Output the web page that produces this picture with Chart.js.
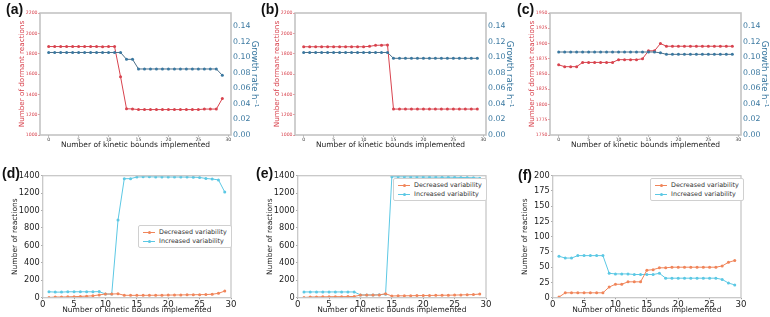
<!DOCTYPE html>
<html>
<head>
<meta charset="utf-8">
<script src="https://cdn.jsdelivr.net/npm/chart.js@4.4.1/dist/chart.umd.min.js"></script>
<style>
  body { margin: 0; width: 770px; height: 317px; background: #fff; position: relative; overflow: hidden; font-family: "DejaVu Sans", sans-serif; }
  canvas { position: absolute; }
  .tag { position: absolute; font: bold 14px "Liberation Sans", Arial, sans-serif; line-height: 14px; color: #111; }
  .legend { position: absolute; background: #fff; border: 1px solid #d0d0d0; border-radius: 2px; padding: 2px 4px 1px 4px; font-size: 6.4px; color: #333; }
  .legend div { height: 9px; line-height: 9px; white-space: nowrap; }
  .legend .ln { display: inline-block; width: 12px; height: 0; border-top: 1px solid; vertical-align: middle; margin-right: 4px; position: relative; }
  .legend .ln::after { content: ""; position: absolute; left: 4.5px; top: -2px; width: 3px; height: 3px; border-radius: 50%; background: currentColor; }
</style>
</head>
<body>
<canvas id="pa" width="262" height="158" style="left:0;top:0"></canvas>
<canvas id="pb" width="262" height="158" style="left:255px;top:0"></canvas>
<canvas id="pc" width="262" height="158" style="left:510px;top:0"></canvas>
<canvas id="pd" width="240" height="159" style="left:0;top:158px"></canvas>
<canvas id="pe" width="240" height="159" style="left:255px;top:158px"></canvas>
<canvas id="pf" width="240" height="159" style="left:510px;top:158px"></canvas>

<div class="tag" style="left:6px;top:2px">(a)</div>
<div class="tag" style="left:261px;top:2px">(b)</div>
<div class="tag" style="left:517px;top:2px">(c)</div>
<div class="tag" style="left:2px;top:166px">(d)</div>
<div class="tag" style="left:256px;top:166px">(e)</div>
<div class="tag" style="left:518px;top:168px">(f)</div>

<div class="legend" style="left:138px;top:225px">
  <div><span class="ln" style="color:#f0855a"></span>Decreased variability</div>
  <div><span class="ln" style="color:#5cc8e4"></span>Increased variability</div>
</div>
<div class="legend" style="left:393px;top:178px">
  <div><span class="ln" style="color:#f0855a"></span>Decreased variability</div>
  <div><span class="ln" style="color:#5cc8e4"></span>Increased variability</div>
</div>
<div class="legend" style="left:650px;top:178px">
  <div><span class="ln" style="color:#f0855a"></span>Decreased variability</div>
  <div><span class="ln" style="color:#5cc8e4"></span>Increased variability</div>
</div>

<script>
// x values
const boundsTop = [0,1,2,3,4,5,6,7,8,9,10,11,12,13,14,15,16,17,18,19,20,21,22,23,24,25,26,27,28,29];
const boundsBottom = [1,2,3,4,5,6,7,8,9,10,11,12,13,14,15,16,17,18,19,20,21,22,23,24,25,26,27,28,29];

// top row: dormant reactions (left axis) and growth rate (right axis)
const dormantA = [1870,1870,1870,1870,1870,1870,1870,1870,1870,1868,1870,1870,1574,1258,1256,1250,1250,1250,1250,1250,1250,1250,1250,1250,1250,1250,1255,1255,1255,1358];
const growthA = [0.106,0.106,0.106,0.106,0.106,0.106,0.106,0.106,0.106,0.106,0.106,0.106,0.106,0.0972,0.0972,0.0848,0.0848,0.0848,0.0848,0.0848,0.0848,0.0848,0.0848,0.0848,0.0848,0.0848,0.0848,0.0848,0.0848,0.0767];
const dormantB = [1868,1868,1868,1868,1868,1868,1868,1868,1868,1868,1868,1872,1882,1884,1886,1255,1255,1255,1255,1255,1255,1255,1255,1255,1255,1255,1255,1255,1255,1255];
const growthB = [0.106,0.106,0.106,0.106,0.106,0.106,0.106,0.106,0.106,0.106,0.106,0.106,0.106,0.106,0.106,0.0985,0.0985,0.0985,0.0985,0.0985,0.0985,0.0985,0.0985,0.0985,0.0985,0.0985,0.0985,0.0985,0.0985,0.0985];
const dormantC = [1865,1862,1862,1862,1869,1869,1869,1869,1869,1869,1873.5,1873.5,1873.5,1873.5,1875,1888,1888,1900,1895.5,1895.5,1895.5,1895.5,1895.5,1895.5,1895.5,1895.5,1895.5,1895.5,1895.5,1895.5];
const growthC = [0.1066,0.1066,0.1066,0.1066,0.1066,0.1066,0.1066,0.1066,0.1066,0.1066,0.1066,0.1066,0.1066,0.1066,0.1066,0.1066,0.1066,0.1055,0.1036,0.1036,0.1036,0.1036,0.1036,0.1036,0.1036,0.1036,0.1036,0.1036,0.1036,0.1036];

// bottom row: variability changes
const decreasedD = [2,8,8,10,12,15,18,22,32,42,42,45,28,27,27,27,28,28,29,30,31,32,33,34,35,36,40,50,76];
const increasedD = [68,64,64,68,68,68,68,68,70,42,42,891,1366,1366,1385,1387,1387,1386,1386,1385,1385,1385,1384,1383,1380,1368,1362,1352,1213];
const decreasedE = [2,8,9,10,11,12,12,13,14,30,30,30,32,46,20,22,22,23,24,25,26,27,28,29,30,32,34,36,42];
const increasedE = [66,66,66,66,66,66,66,66,66,32,32,32,33,40,1388,1387,1387,1386,1386,1385,1384,1384,1383,1383,1382,1380,1378,1376,1372];
const decreasedF = [1,8,8,8,8,8,8,8,17.5,22,22,26,26,26,45,46,49,49,50,50,50,50,50,50,50,50,52,58,61];
const increasedF = [68,65,65,69,69,69,69,69,40,39,39,39,38,38,38,38,40,32,32,32,32,32,32,32,32,32,30,24,21];

// tick labels
const xTicks = [0,5,10,15,20,25,30];
const dormantTicksAB = [1000,1200,1400,1600,1800,2000,2200];
const dormantTicksC = [1750,1775,1800,1825,1850,1875,1900,1925,1950];
const growthTicks = [0,0.02,0.04,0.06,0.08,0.10,0.12,0.14];
const reactionTicksDE = [0,200,400,600,800,1000,1200,1400];
const reactionTicksF = [0,25,50,75,100,125,150,175,200];

const RED = "#d8434e";
const BLUE = "#3a78a0";
const BLUE_LINE = "#4d6f88";
const ORANGE = "#f0855a";
const CYAN = "#5cc8e4";
const XTITLE = "Number of kinetic bounds implemented";

Chart.defaults.font.family = '"DejaVu Sans", sans-serif';

const pts = (xs, ys) => ys.map((y, i) => ({ x: xs[i], y: y }));
const setTicks = (list) => (s) => { s.ticks = list.map(v => ({ value: v })); };
const fitW = (w) => (s) => { s.width = w; s.paddingTop = 0; s.paddingBottom = 0; s.paddingLeft = 0; s.paddingRight = 0; };
const fitH = (h) => (s) => { s.height = h; s.paddingTop = 0; s.paddingBottom = 0; s.paddingLeft = 0; s.paddingRight = 0; };

// light grey frame round the plot area
const frame = {
  id: "frame",
  afterDraw(chart) {
    const a = chart.chartArea, c = chart.ctx;
    c.save();
    c.strokeStyle = "#c4c4c4";
    c.lineWidth = chart.options.frameWidth || 1.2;
    c.strokeRect(a.left, a.top, a.right - a.left, a.bottom - a.top);
    c.restore();
  }
};

function line(data, axis, color, pointColor) {
  return {
    data: data, yAxisID: axis, borderColor: color, backgroundColor: pointColor,
    borderWidth: 1, pointRadius: 1.5, pointBorderWidth: 0, pointBackgroundColor: pointColor,
    tension: 0, fill: false
  };
}

function topPanel(id, dormant, growth, leftTicks, leftMin, leftMax) {
  new Chart(document.getElementById(id), {
    type: "line",
    data: {
      datasets: [
        line(pts(boundsTop, growth), "y1", BLUE_LINE, BLUE),
        line(pts(boundsTop, dormant), "y", RED, RED)
      ]
    },
    options: {
      responsive: false, animation: false, devicePixelRatio: 1, frameWidth: 1.6,
      layout: { padding: { top: 13, left: 0, right: 0, bottom: 0 } },
      plugins: { legend: { display: false }, tooltip: { enabled: false } },
      scales: {
        x: {
          type: "linear", min: -1.45, max: 30.45,
          afterBuildTicks: setTicks(xTicks), afterFit: fitH(23),
          grid: { drawOnChartArea: false, drawTicks: true, tickLength: 1.5, color: "#888" },
          border: { display: false },
          ticks: { font: { size: 4.6 }, color: "#444", padding: 1, maxRotation: 0, autoSkip: false, callback: v => String(v) },
          title: { display: true, text: XTITLE, font: { size: 7.5 }, color: "#222", padding: { top: 0, bottom: 8.5 } }
        },
        y: {
          type: "linear", position: "left", min: leftMin, max: leftMax,
          afterBuildTicks: setTicks(leftTicks), afterFit: fitW(40),
          grid: { drawOnChartArea: false, drawTicks: true, tickLength: 1.5, color: RED },
          border: { display: false },
          ticks: { font: { size: 4.6 }, color: RED, padding: 1, autoSkip: false, callback: v => String(v) },
          title: { display: true, text: "Number of dormant reactions", font: { size: 7.2 }, color: RED, padding: { top: 18, bottom: 0 } }
        },
        y1: {
          type: "linear", position: "right", min: 0, max: 0.1567,
          afterBuildTicks: setTicks(growthTicks), afterFit: fitW(31),
          grid: { display: false, drawTicks: false },
          border: { display: false },
          ticks: { font: { size: 7.8 }, color: BLUE, padding: 2, autoSkip: false, callback: v => v.toFixed(2) },
          title: { display: true, text: "Growth rate h\u207B\u00B9", font: { size: 8.5 }, color: BLUE, padding: { top: 3, bottom: 0 } }
        }
      }
    },
    plugins: [frame]
  });
}

function bottomPanel(id, decreased, increased, yTicks, yMax) {
  new Chart(document.getElementById(id), {
    type: "line",
    data: {
      datasets: [
        line(pts(boundsBottom, decreased), "y", ORANGE, ORANGE),
        line(pts(boundsBottom, increased), "y", CYAN, CYAN)
      ]
    },
    options: {
      responsive: false, animation: false, devicePixelRatio: 1, frameWidth: 1.2,
      layout: { padding: { top: 17.7, left: 0, right: 9, bottom: 0 } },
      plugins: { legend: { display: false }, tooltip: { enabled: false } },
      scales: {
        x: {
          type: "linear", min: 0, max: 30,
          afterBuildTicks: setTicks(xTicks), afterFit: fitH(19.3),
          grid: { drawOnChartArea: false, drawTicks: true, tickLength: 1.5, color: "#999" },
          border: { display: false },
          ticks: { font: { size: 8.6 }, color: "#222", padding: 0, maxRotation: 0, autoSkip: false, callback: v => String(v) },
          title: { display: true, text: XTITLE, font: { size: 7.5 }, color: "#222", padding: { top: 0, bottom: 2.5 } }
        },
        y: {
          type: "linear", position: "left", min: 0, max: yMax,
          afterBuildTicks: setTicks(yTicks), afterFit: fitW(42.7),
          grid: { drawOnChartArea: false, drawTicks: true, tickLength: 1.5, color: "#999" },
          border: { display: false },
          ticks: { font: { size: 8.2 }, color: "#222", padding: 1.5, autoSkip: false, callback: v => String(v) },
          title: { display: true, text: "Number of reactions", font: { size: 7.5 }, color: "#222", padding: { top: 10.5, bottom: 0 } }
        }
      }
    },
    plugins: [frame]
  });
}

topPanel("pa", dormantA, growthA, dormantTicksAB, 1000, 2200);
topPanel("pb", dormantB, growthB, dormantTicksAB, 1000, 2200);
topPanel("pc", dormantC, growthC, dormantTicksC, 1750, 1950);
bottomPanel("pd", decreasedD, increasedD, reactionTicksDE, 1400);
bottomPanel("pe", decreasedE, increasedE, reactionTicksDE, 1400);
bottomPanel("pf", decreasedF, increasedF, reactionTicksF, 200);
</script>
</body>
</html>
